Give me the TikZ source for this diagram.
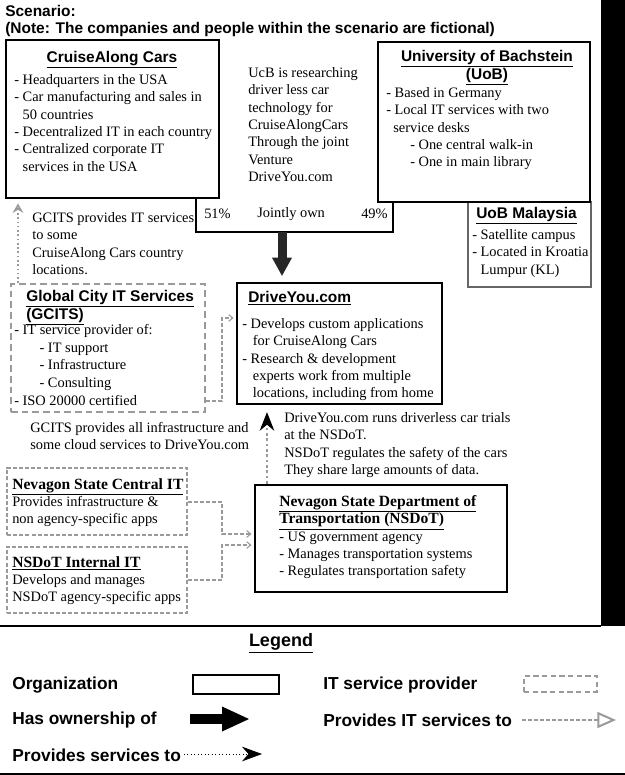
\documentclass[tikz,border=0pt]{standalone}
\usepackage{fontspec}
\setmainfont{Liberation Serif}
\setsansfont{Liberation Sans}
\usetikzlibrary{arrows.meta,fit}
\definecolor{itgray}{HTML}{9A9A9A}
\newcommand\shd[1]{{\fontsize{11.7}{13}\selectfont\bfseries\underline{#1}}}
\tikzset{
  body/.style={font=\fontsize{10.8}{13.05}\selectfont, align=left, anchor=north west, inner sep=0pt},
  head/.style={font=\sffamily\bfseries\fontsize{11.6}{13.2}\selectfont, inner sep=0pt},
  lgt/.style={font=\sffamily\bfseries\fontsize{13}{15}\selectfont, anchor=west, inner sep=0pt},
  orgbox/.style={draw=black, line width=2.2pt, inner sep=0pt},
  thinbox/.style={draw=black!60, line width=0.8pt, inner sep=0pt},
  itbox/.style={draw=itgray, line width=1.6pt, dash pattern=on 5pt off 3pt, inner sep=0pt},
  itboxthin/.style={draw=itgray, line width=0.8pt, dash pattern=on 3pt off 1.6pt, inner sep=0pt},
  orgline/.style={draw=black, line width=2.2pt, line join=miter},
  ownarrow/.style={draw=black!85, line width=6.75pt, -{Triangle[width=14pt,length=14pt]}, shorten >=4pt},
  itdot/.style={draw=itgray, line width=1.2pt, dotted, -{Stealth[open,length=7pt,width=8pt]}, shorten >=3pt},
  itline/.style={draw=itgray, line width=0.8pt, dash pattern=on 3pt off 1.5pt, -{Straight Barb[length=3pt,width=5pt]}, shorten >=1.5pt},
  svc/.style={draw=itgray, line width=0.8pt, dash pattern=on 2pt off 2pt, -{Stealth[color=black,length=14pt,width=11pt]}, shorten >=5pt},
  legown/.style={draw=black, line width=7.5pt, -{Triangle[width=17pt,length=21pt]}},
  legit/.style={draw=itgray, line width=1.5pt, dash pattern=on 3pt off 1.5pt, -{Triangle[open,length=14pt,width=12pt]}},
  legsvc/.style={draw=black, line width=0.6pt, dotted, -{Stealth[length=15pt,width=11pt]}}
}
\begin{document}
\begin{tikzpicture}[x=0.75pt,y=-0.75pt]
\useasboundingbox (0,0) rectangle (625,775);
\fill[white] (0,0) rectangle (625,775);

% frame parts
\fill[black] (601,0) rectangle (625,626);
\draw[line width=1.8pt] (0,626) -- (601,626);
\draw[line width=1.5pt] (0,774) -- (625,774);

% title
\node[body, font=\sffamily\bfseries\fontsize{11.6}{13}\selectfont] (title) at (5,5)
  {Scenario:\\(Note: The companies and people within the scenario are fictional)};

% boxes
\node[orgbox, fit={(6,40)(219,198)}] (cac) {};
\node[thinbox, fit={(468,202)(591,287)}] (uobm) {};
\node[orgbox, fit={(378,42)(590,202)}] (uob) {};
\node[orgbox, fit={(237,283)(442,404)}] (dy) {};
\node[itbox, fit={(11,284)(205,412)}] (gc) {};
\node[orgbox, fit={(255,485)(507,592)}] (ns) {};
\node[itboxthin, fit={(7,468)(187,535)}] (cen) {};
\node[itboxthin, fit={(7,547)(187,613)}] (int) {};

% CruiseAlong
\node[head, anchor=north] (cach) at (112,51) {\underline{CruiseAlong Cars}};
\node[body] (cacb) at (14,74) {- Headquarters in the USA\\- Car manufacturing and sales in\\\hspace*{6.3pt}50 countries\\- Decentralized IT in each country\\- Centralized corporate IT\\\hspace*{6.3pt}services in the USA};

% middle text
\node[body] (mid) at (248,67) {UcB is researching\\driver less car\\technology for\\CruiseAlongCars\\Through the joint\\Venture\\DriveYou.com};

% UoB
\node[head, anchor=north, align=center] (uobh) at (487,50) {\underline{University of Bachstein}\\\underline{(UoB)}};
\node[body] (uobb) at (386,87) {- Based in Germany\\- Local IT services with two\\\hspace*{5.3pt}service desks\\\hspace*{18pt}- One central walk-in\\\hspace*{18pt}- One in main library};

% joint
\coordinate (jl) at (196,232);
\coordinate (jr) at (393,232);
\draw[orgline] (jl |- cac.south) -- (jl) -- (jr) -- (jr |- uob.south);
\node[body, anchor=west] (p51) at (204,214) {51\%};
\node[body, anchor=west] (jo) at (257,214) {Jointly own};
\node[body, anchor=west] (p49) at (361,214) {49\%};
\coordinate (ow) at (282,232);
\draw[ownarrow] (ow) -- (ow |- dy.north);

% UoB Malaysia
\node[head, anchor=west] (uobmh) at (476,216) {\underline{UoB Malaysia}};
\node[body] (uobmb) at (472,229) {- Satellite campus\\- Located in Kroatia\\\hspace*{6.3pt}Lumpur (KL)};

% GCITS -> CAC
\node[body] (gct) at (32,212) {GCITS provides IT services\\to some\\CruiseAlong Cars country\\locations.};
\coordinate (ga) at (18,0);
\draw[itdot] (ga |- gc.north) -- (ga |- cac.south);

% GCITS
\node[head, anchor=north west, align=left] (gch) at (26,290) {\underline{Global City IT Services}\\\underline{(GCITS)}};
\node[body, font=\fontsize{10.8}{13.3}\selectfont] (gcb) at (14,324) {- IT service provider of:\\\hspace*{19pt}- IT support\\\hspace*{19pt}- Infrastructure\\\hspace*{19pt}- Consulting\\- ISO 20000 certified};
\node[body] (gdt) at (30,422) {GCITS provides all infrastructure and\\some cloud services to DriveYou.com};
\coordinate (g1) at (222,401);
\coordinate (g2) at (222,318);
\draw[itline] (g1 -| gc.east) -- (g1) -- (g2) -- (g2 -| dy.west);

% DriveYou
\node[head, anchor=west] (dyh) at (248,298) {\underline{DriveYou.com}};
\node[body] (dyb) at (242,318) {- Develops custom applications\\\hspace*{8pt}for CruiseAlong Cars\\- Research \& development\\\hspace*{8pt}experts work from multiple\\\hspace*{8pt}locations, including from home};

% NSDoT -> DriveYou
\node[body] (nst) at (284,412) {DriveYou.com runs driverless car trials\\at the NSDoT.\\NSDoT regulates the safety of the cars\\They share large amounts of data.};
\coordinate (nv) at (267,0);
\draw[svc] (nv |- ns.north) -- (nv |- dy.south);

% NSDoT
\node[body] (nsb) at (279,495) {\shd{Nevagon State Department of}\\\shd{Transportation (NSDoT)}\\- US government agency\\- Manages transportation systems\\- Regulates transportation safety};

% Central / Internal IT
\node[body] (cenb) at (12,478) {\shd{Nevagon State Central IT}\\Provides infrastructure \&\\non agency-specific apps};
\node[body] (intb) at (12,556) {\shd{NSDoT Internal IT}\\Develops and manages\\NSDoT agency-specific apps};
\coordinate (c1) at (222,502);
\coordinate (c2) at (222,534);
\draw[itline] (c1 -| cen.east) -- (c1) -- (c2) -- (c2 -| ns.west);
\coordinate (i1) at (222,580);
\coordinate (i2) at (222,545);
\draw[itline] (i1 -| int.east) -- (i1) -- (i2) -- (i2 -| ns.west);

% Legend
\node[font=\sffamily\bfseries\fontsize{13.5}{15}\selectfont, inner sep=0pt] (leg) at (281,643) {\underline{Legend}};
\node[lgt] (lorg) at (12,685) {Organization};
\node[orgbox, fit={(193,675)(279,694)}] (lorgbox) {};
\node[lgt] (litp) at (323,685) {IT service provider};
\node[itboxthin, line width=1pt, dash pattern=on 4pt off 2.5pt, fit={(524,676)(597,692)}] (litpbox) {};
\node[lgt] (lown) at (12,720) {Has ownership of};
\coordinate (lo1) at (190,719);
\coordinate (lo2) at (250,719);
\draw[legown] (lo1) -- (lo2);
\node[lgt] (lits) at (323,720) {Provides IT services to};
\coordinate (li1) at (522,720);
\coordinate (li2) at (616,720);
\draw[legit] (li1) -- (li2);
\node[lgt] (lsvc) at (12,755) {Provides services to};
\coordinate (ls1) at (184,754);
\coordinate (ls2) at (262,754);
\draw[legsvc] (ls1) -- (ls2);
\end{tikzpicture}
\end{document}
